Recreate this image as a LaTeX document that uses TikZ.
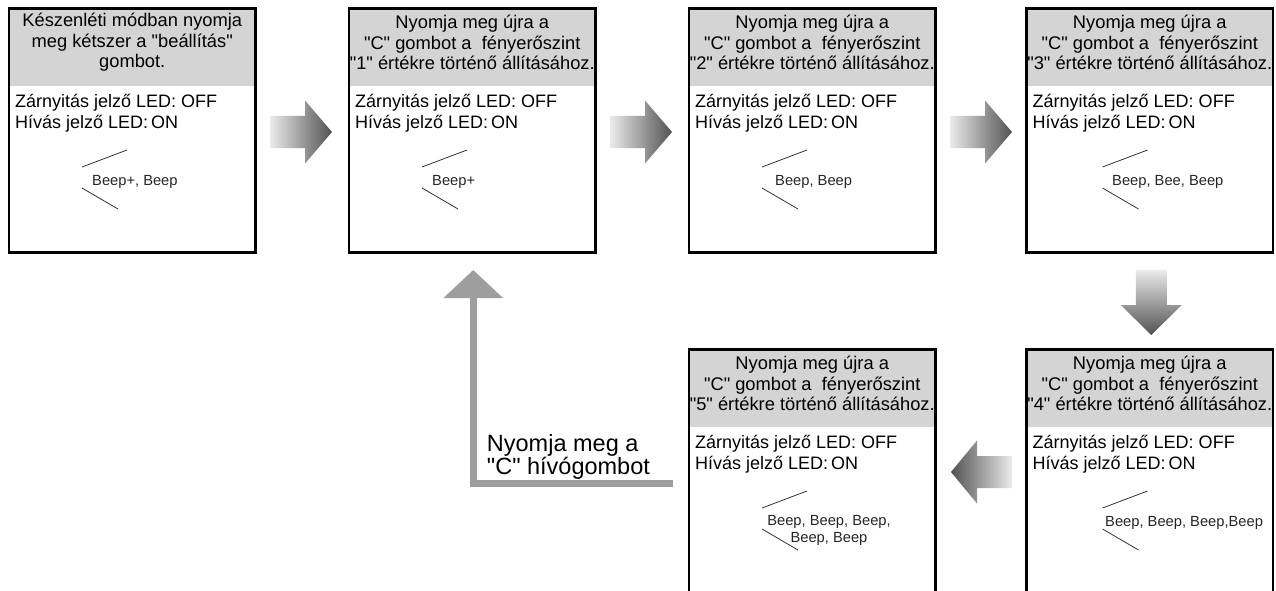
\documentclass[tikz,border=0pt]{standalone}
\usepackage{fontspec}
\setmainfont{Liberation Sans}[Ligatures=TeXOff]
\usetikzlibrary{calc,arrows.meta}
\definecolor{headgray}{RGB}{212,212,212}
\newcommand{\levelhead}[1]{Nyomja meg újra a\\"C" gombot a\ \ fényerőszint\\"#1" értékre történő állításához.}
\newcommand{\ledstatus}{Zárnyitás jelző LED: OFF\\Hívás jelző LED:\,ON}
\tikzset{
	panel/.style={draw, line width=2.4pt, anchor=north west, inner sep=0pt, outer sep=0pt,
		minimum width=246.5pt, minimum height=244pt,
		path picture={\fill[headgray] (path picture bounding box.north west) rectangle ([yshift=-77.5pt]path picture bounding box.north east);}},
	panel long/.style={panel, minimum height=262pt},
	headtext/.style={align=center, inner sep=0pt, font=\fontsize{18.3}{20.5}\selectfont},
	ledtext/.style={align=left, anchor=west, inner sep=0pt, font=\fontsize{18}{21}\selectfont},
	beeptext/.style={anchor=west, inner sep=0pt, text=black!85, font=\fontsize{14.7}{17}\selectfont},
	beepline/.style={line width=0.8pt, black!80},
	retline/.style={line width=7pt, draw=black!38, -{Triangle[width=58pt,length=28pt]}},
	retlabel/.style={align=left, inner sep=0pt, font=\fontsize{23.5}{23.5}\selectfont},
	rarrow/.pic={\shade[left color=black!8, right color=black!68] (0,-16) -- (35,-16) -- (35,-31.5) -- (62,0) -- (35,31.5) -- (35,16) -- (0,16) -- cycle;},
	larrow/.pic={\shade[left color=black!68, right color=black!8] (0,-16) -- (-35,-16) -- (-35,-31.5) -- (-61,0) -- (-35,31.5) -- (-35,16) -- (0,16) -- cycle;},
	darrow/.pic={\shade[top color=black!8, bottom color=black!68] (-15.5,0) -- (-15.5,35) -- (-30.5,35) -- (0,65) -- (30.5,35) -- (15.5,35) -- (15.5,0) -- cycle;}
}
\begin{document}
\begin{tikzpicture}[x=1pt, y=-1pt, line join=miter]
	\useasboundingbox (0,0) rectangle (1276,591);
	\node[panel] (b1) at (9,8.5) {};
	\node[panel] (b2) at (349,8.5) {};
	\node[panel] (b3) at (689,8.5) {};
	\node[panel] (b4) at (1026.5,8.5) {};
	\node[panel long] (b5) at (1026.5,349.5) {};
	\node[panel long] (b6) at (689,349.5) {};
	\node[headtext] (b1-head) at ($(b1.north)+(0,34)$) {Készenléti módban nyomja\\meg kétszer a "beállítás"\\gombot.};
	\foreach \b/\lvl in {b2/1,b3/2,b4/3,b5/4,b6/5}
		\node[headtext] (\b-head) at ($(\b.north)+(0,34)$) {\levelhead{\lvl}};
	\foreach \b in {b1,b2,b3,b4,b5,b6}
		\node[ledtext] (\b-led) at ($(\b.north west)+(6,105)$) {\ledstatus};
	\foreach \b/\dx in {b1/73,b2/73,b3/73,b4/76,b5/76,b6/73}{
		\draw[beepline] ($(\b.north west)+(\dx,158.5)$) -- ++(45,-17);
		\draw[beepline] ($(\b.north west)+(\dx,179.5)$) -- ++(36,21);}
	\foreach \b/\tx/\beeps in {b1/83/{Beep+, Beep},b2/83/{Beep+},b3/86/{Beep, Beep},b4/85.5/{Beep, Bee, Beep},b5/78.5/{Beep, Beep, Beep,Beep}}
		\node[beeptext] (\b-beep) at ($(\b.north west)+(\tx,173.5)$) {\beeps};
	\node[beeptext, anchor=center, align=center] (b6-beep) at ($(b6.north west)+(140,181)$) {Beep, Beep, Beep,\\Beep, Beep};
	\pic (a12) at ($(b1.east)+(14.5,1.5)$) {rarrow};
	\pic (a23) at ($(b2.east)+(14.5,1.5)$) {rarrow};
	\pic (a34) at ($(b3.east)+(14.5,1.5)$) {rarrow};
	\pic (a45) at ($(b4.south)+(1.5,17.5)$) {darrow};
	\pic (a56) at ($(b5.north west)+(-14.5,122.5)$) {larrow};
	\coordinate (ret) at ($(b6.north west)+(-16.5,133.5)$);
	\coordinate (up) at ($(b2.south)+(1,17.5)$);
	\coordinate (bend) at (up |- ret);
	\draw[retline] (ret) -| (up);
	\node[retlabel, anchor=south west] (retlbl) at ($(bend)+(13.5,-3)$) {Nyomja meg a\\"C" hívógombot};
\end{tikzpicture}
\end{document}
